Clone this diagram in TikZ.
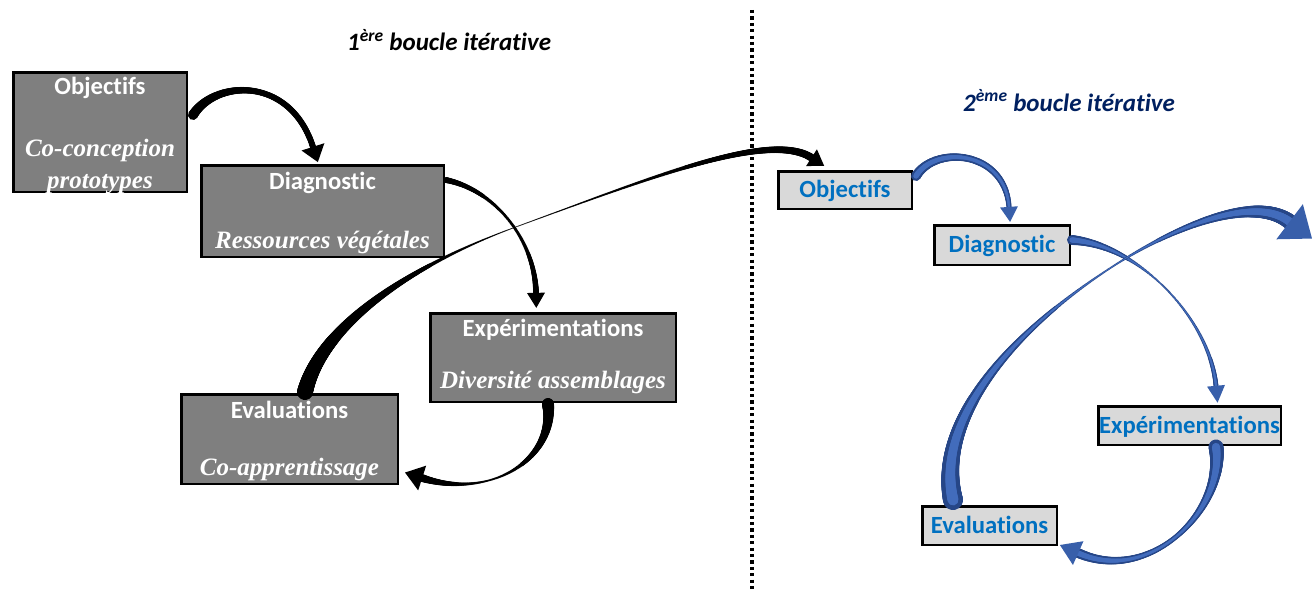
\documentclass[tikz,border=0pt]{standalone}
\usepackage{fontspec}
\setmainfont{Liberation Serif}
\newfontfamily\calfont[Ligatures=NoCommon]{Carlito}
\usetikzlibrary{calc,decorations.markings}
\definecolor{boxdark}{HTML}{7F7F7F}
\definecolor{boxlight}{HTML}{D9D9D9}
\definecolor{labelblue}{HTML}{0070C0}
\definecolor{navytitle}{HTML}{002060}
\definecolor{ribbonblue}{RGB}{66,108,188}
\definecolor{ribbonedge}{RGB}{38,70,135}
\colorlet{headblue}{ribbonblue!65!ribbonedge}

\tikzset{
  darkbox/.style={draw=black, line width=2.5pt, fill=boxdark, inner sep=0pt},
  lightbox/.style={draw=black, line width=2.5pt, fill=boxlight, inner sep=0pt,
    font=\calfont\bfseries\fontsize{24.7}{28}\selectfont, text=labelblue,
    text height=15.5pt, text depth=0pt},
  headtext/.style={font=\calfont\bfseries\fontsize{24.7}{28}\selectfont, text=white,
    anchor=base, inner sep=0pt},
  subtext/.style={font=\bfseries\itshape\fontsize{25}{28}\selectfont, text=white,
    anchor=base, inner sep=0pt},
  looptitle/.style={font=\calfont\bfseries\itshape\fontsize{25}{28}\selectfont,
    anchor=base west, inner sep=0pt},
  dotline/.style={line width=3.5pt, dash pattern=on 3.2pt off 3.2pt},
  % tapered ribbon layer: width at start, narrowest width, width at end,
  % where it is narrowest, colour, share of the width that is painted
  ribbon/.style n args={6}{
    postaction={decorate, decoration={markings,
      mark=between positions 0 and 1 step 0.7pt with {%
        \pgfmathsetmacro\bandt{\pgfkeysvalueof{/pgf/decoration/mark info/distance from start}/\pgfdecoratedpathlength}%
        \pgfmathsetmacro\bandw{\bandt<#4 ? #2+(#1-#2)*(max((#4-\bandt)/#4,0.001))^1.5 : #2+(#3-#2)*(max((\bandt-#4)/(1-#4),0.001))^1.5}%
        \fill[#5] (0,0) circle[radius=0.5*#6*\bandw];
      }}}
  },
  band/.style n args={5}{ribbon={#1}{#2}{#3}{#4}{#5}{1}},
  blueband/.style n args={4}{ribbon={#1}{#2}{#3}{#4}{ribbonedge}{1},
    ribbon={#1}{#2}{#3}{#4}{ribbonblue}{0.55}},
  % arrow head placed at the end of a ribbon: half width, length, colour
  bandhead/.style n args={3}{
    postaction={decorate, decoration={markings,
      mark=at position 0.999 with {\fill[#3] (0,#1) -- (#2,0) -- (0,-#1) -- cycle;}}}
  },
}

\begin{document}
\begin{tikzpicture}[x=1pt,y=-1pt]
\useasboundingbox (0,0) rectangle (1314,594);
\clip (0,0) rectangle (1314,594);

% separator between the two loops
\draw[dotline] (752,10) -- (752,592);

% titles
\node[looptitle] (t1) at (347,51) {1\textsuperscript{ère} boucle itérative};
\node[looptitle, text=navytitle] (t2) at (963,111) {2\textsuperscript{ème} boucle itérative};

% first loop: boxes
\node[darkbox, minimum width=173.5pt, minimum height=119.5pt] (o1) at (100,132) {};
\node[darkbox, minimum width=242.5pt, minimum height=91.5pt] (d1) at (322.5,211) {};
\node[darkbox, minimum width=245.5pt, minimum height=88.5pt] (e1) at (553,357.5) {};
\node[darkbox, minimum width=216.5pt, minimum height=89.5pt] (v1) at (289.5,439) {};

\node[headtext] (o1h) at ($(o1.north)+(0,24)$) {Objectifs};
\node[subtext] (o1s) at ($(o1.south)+(0,-37)$) {Co-conception};
\node[subtext] (o1t) at ($(o1.south)+(0,-5)$) {prototypes};
\node[headtext] (d1h) at ($(d1.north)+(0,25)$) {Diagnostic};
\node[subtext] (d1s) at ($(d1.south)+(0,-10)$) {Ressources végétales};
\node[headtext] (e1h) at ($(e1.north)+(0,24)$) {Expérimentations};
\node[subtext] (e1s) at ($(e1.south)+(0,-15)$) {Diversité assemblages};
\node[headtext] (v1h) at ($(v1.north)+(0,25)$) {Evaluations};
\node[subtext] (v1s) at ($(v1.south)+(0,-10)$) {Co-apprentissage};

% second loop: boxes
\node[lightbox, minimum width=133.5pt, minimum height=37.5pt] (o2) at (845,190) {Objectifs};
\node[lightbox, minimum width=135.5pt, minimum height=39.5pt] (d2) at (1002,245) {Diagnostic};
\node[lightbox, minimum width=182.5pt, minimum height=38.5pt] (e2) at (1189.5,425.5) {Expérimentations};
\node[lightbox, minimum width=134.5pt, minimum height=38.5pt] (v2) at (989.5,525.5) {Evaluations};
\coordinate (exit) at (1290,222);

% first loop: arrows
\path[band={10}{6}{6}{0.5}{black}, bandhead={12}{16}{black}]
  ($(o1.east)+(5,-17)$) .. controls +(22,-35) and +(-23,-72) .. ($(d1.north)+(-9.5,-17)$);
\path[band={6}{3}{6}{0.5}{black}, bandhead={9}{15}{black}]
  ($(d1.north east)+(1,16)$) .. controls +(49,10) and +(-1,-53) .. ($(e1.north)+(-17,-19)$);
\path[band={12}{2}{8}{0.6}{black}, bandhead={13}{18}{black}]
  ($(e1.south)+(-5,1)$) .. controls +(7,56) and +(68,22) .. ($(v1.south east)+(23,-7)$);
\path[band={16}{1}{8}{0.47}{black}, bandhead={10}{15}{black}]
  ($(v1.north)+(15.5,-1)$) .. controls +(15,-62) and +(-113,42) .. ++(208,-164)
  .. controls +(137,-50) and +(-42,-28) .. ($(o2.north)+(-33,-12)$);

% second loop: arrows
\path[blueband={10}{7}{5}{0.5}, bandhead={9}{15}{headblue}]
  ($(o2.east)+(3,-14)$) .. controls +(19,-31) and +(-4,-57) .. ($(d2.north)+(7,-17)$);
\path[blueband={10}{2}{5}{0.45}, bandhead={9}{17}{headblue}]
  ($(d2.east)+(1,-5)$) .. controls +(68,5) and +(-6,-66) .. ($(e2.north)+(26.5,-19)$);
\path[blueband={15}{5}{10}{0.5}, bandhead={13}{20}{headblue}]
  ($(e2.south)+(26.5,1)$) .. controls +(9,63) and +(72,32) .. ($(v2.south east)+(20,7)$);
\path[blueband={20}{2}{16}{0.6}, bandhead={22}{28}{headblue}]
  ($(v2.north)+(-36.5,-5)$) .. controls +(-18,-80) and +(-113,70) .. ++(170,-240)
  .. controls +(57,-35) and +(-35,-27) .. (exit);
\end{tikzpicture}
\end{document}
